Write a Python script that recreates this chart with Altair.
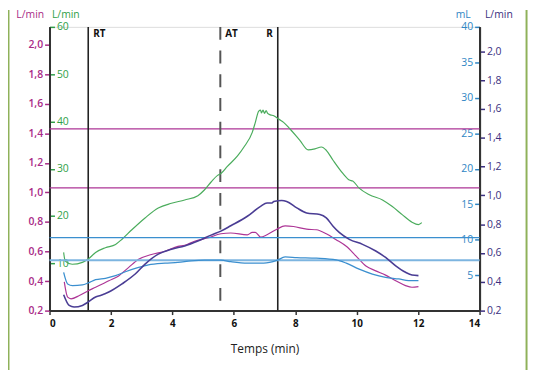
import altair as alt
import pandas as pd

# ---------------- data ----------------
# green curve (L/min, 0-60 scale, inner left axis)
green_t = [0.46, 0.51, 0.74, 1.07, 1.26, 1.50, 1.82, 2.15, 2.36, 2.68, 3.11, 3.54, 3.97, 4.40, 4.83,
           5.04, 5.26, 5.47, 5.58, 5.79, 6.12, 6.33, 6.60, 6.70, 6.81, 6.87, 6.90, 6.95, 7.00, 7.05,
           7.10, 7.19, 7.30, 7.40, 7.46, 7.62, 7.83, 8.15, 8.42, 8.64, 8.85, 9.01, 9.23, 9.55, 9.76,
           9.87, 10.08, 10.41, 10.84, 11.16, 11.48, 11.80, 12.01, 12.12]
green_v = [12.3, 10.5, 9.8, 10.2, 10.9, 12.3, 13.3, 14.0, 15.1, 17.1, 19.6, 21.7, 22.7, 23.4, 24.3,
           25.5, 27.2, 28.6, 29.0, 30.5, 32.7, 34.6, 37.7, 39.8, 42.2, 42.4, 41.8, 42.4, 41.7, 42.3,
           41.7, 41.4, 41.2, 40.8, 40.5, 39.8, 38.4, 36.0, 34.0, 34.2, 34.6, 33.9, 31.8, 29.0, 27.6,
           27.4, 25.9, 24.5, 23.4, 22.0, 20.3, 18.7, 18.2, 18.6]

# magenta curve (L/min, outer left axis)
mag_t = [0.48, 0.59, 0.70, 0.97, 1.26, 1.50, 1.72, 1.93, 2.25, 2.57, 2.90, 3.32, 3.76, 4.18, 4.40,
         4.72, 5.15, 5.58, 5.90, 6.44, 6.60, 6.70, 6.87, 7.08, 7.40, 7.67, 7.94, 8.37, 8.69, 9.01,
         9.33, 9.66, 9.98, 10.30, 10.62, 10.94, 11.27, 11.59, 11.80, 12.01]
mag_v = [0.395, 0.291, 0.280, 0.302, 0.335, 0.358, 0.380, 0.402, 0.435, 0.491, 0.547, 0.580, 0.602,
         0.635, 0.642, 0.669, 0.691, 0.720, 0.725, 0.713, 0.729, 0.729, 0.698, 0.713, 0.751, 0.773,
         0.769, 0.751, 0.747, 0.720, 0.680, 0.635, 0.569, 0.502, 0.469, 0.440, 0.402, 0.369, 0.358,
         0.362]
mag_h = [1.43, 1.03]

# dark purple curve (L/min, outer right axis)
pur_t = [0.46, 0.64, 0.80, 1.07, 1.26, 1.50, 1.66, 1.93, 2.36, 2.79, 3.11, 3.54, 3.97, 4.40, 4.83,
         5.26, 5.58, 5.90, 6.44, 6.87, 7.08, 7.24, 7.30, 7.56, 7.72, 8.05, 8.37, 8.80, 9.01, 9.23,
         9.44, 9.76, 10.19, 10.62, 10.94, 11.27, 11.59, 11.80, 12.01]
pur_v = [0.310, 0.236, 0.225, 0.236, 0.260, 0.294, 0.305, 0.329, 0.386, 0.454, 0.523, 0.592, 0.626,
         0.649, 0.683, 0.724, 0.752, 0.789, 0.855, 0.924, 0.947, 0.947, 0.958, 0.965, 0.958, 0.913,
         0.878, 0.867, 0.844, 0.786, 0.741, 0.695, 0.660, 0.614, 0.569, 0.511, 0.466, 0.447, 0.443]

# blue curve (mL, inner right axis)
blue_t = [0.46, 0.59, 0.75, 1.07, 1.26, 1.50, 1.82, 2.15, 2.47, 2.90, 3.22, 3.76, 4.18, 4.61, 5.04,
          5.58, 5.90, 6.44, 6.97, 7.40, 7.67, 8.05, 8.69, 9.33, 9.66, 10.08, 10.51, 10.94, 11.37,
          11.69, 12.01]
blue_v = [5.39, 3.76, 3.53, 3.62, 3.90, 4.36, 4.56, 4.92, 5.48, 6.09, 6.45, 6.69, 6.79, 7.01, 7.11,
          7.11, 6.90, 6.69, 6.69, 7.07, 7.57, 7.48, 7.39, 7.15, 6.69, 5.85, 5.16, 4.70, 4.46, 4.22,
          4.22]
blue_h_upper = [10.3]
blue_h_lower = [7.1]

# events
event_names = ["RT", "AT", "R"]
event_t = [1.26, 5.56, 7.43]
event_label_level = 2.07  # on the left L/min scale

x_ticks = [0, 2, 4, 6, 8, 10, 12, 14]
lmin_ticks = [0.2, 0.4, 0.6, 0.8, 1.0, 1.2, 1.4, 1.6, 1.8, 2.0]
green_ticks = [10, 20, 30, 40, 50, 60]
ml_ticks = [5, 10, 15, 20, 25, 30, 35, 40]

# ---------------- styling ----------------
W, H = 435, 287
FONT = "Open Sans"
MAG, MAG_TXT = "#ad3596", "#a82a86"
GRN, GRN_TXT = "#4aac5c", "#2f9f48"
BLU, BLU_TXT = "#3b8fcf", "#2f86c4"
BLU_LIGHT = "#7db5e0"
PUR, PUR_TXT = "#4a3d94", "#3b2f80"
AX = "#333333"
FRAME = "#8fb15a"
comma = "replace(format(datum.value, '.1f'), '.', ',')"

df_g = pd.DataFrame({"t": green_t, "v": green_v})
df_m = pd.DataFrame({"t": mag_t, "v": mag_v})
df_p = pd.DataFrame({"t": pur_t, "v": pur_v})
df_b = pd.DataFrame({"t": blue_t, "v": blue_v})
df_mh = pd.DataFrame({"v": mag_h})
df_bhu = pd.DataFrame({"v": blue_h_upper})
df_bhl = pd.DataFrame({"v": blue_h_lower})
df_ev = pd.DataFrame({"t": event_t, "name": event_names, "v": [event_label_level] * len(event_t)})

X = alt.X("t:Q", scale=alt.Scale(domain=[0, 14], nice=False, zero=False),
          axis=alt.Axis(values=x_ticks, title="Temps (min)", grid=False, domainColor=AX,
                        domainWidth=2, tickColor=AX, tickSize=4, tickWidth=1.5,
                        labelColor="#111", labelFont=FONT, labelFontSize=10,
                        labelFontWeight="bold", labelPadding=4, labelOverlap=False,
                        titleFont=FONT, titleFontSize=12, titleFontWeight="normal",
                        titleColor="#222", titlePadding=15))


def yaxis(vals, orient, offset, color, title, title_x, fmt=None, bold=False):
    kw = dict(orient=orient, offset=offset, values=vals, grid=False, domainColor=AX,
              domainWidth=2, tickColor=color, tickSize=5, tickWidth=1.5, labelColor=color,
              labelFont=FONT, labelFontSize=10.5, labelPadding=2, labelOverlap=False,
              labelFontWeight=600 if bold else "normal",
              title=title, titleAngle=0, titleX=title_x, titleY=-9.8, titleAlign="center",
              titleBaseline="alphabetic", titleFont=FONT, titleFontSize=10.5,
              titleFontWeight="normal", titleColor=color)
    if fmt:
        kw["labelExpr"] = fmt
    return alt.Axis(**kw)


Y_M = alt.Y("v:Q", scale=alt.Scale(domain=[0.2, 2.12], nice=False, zero=False),
            axis=yaxis(lmin_ticks, "left", 0, MAG_TXT, "L/min", -20, comma, True))
Y_G = alt.Y("v:Q", scale=alt.Scale(domain=[0, 60], nice=False, zero=False),
            axis=yaxis(green_ticks, "right", -W, GRN_TXT, "L/min", 16))
Y_B = alt.Y("v:Q", scale=alt.Scale(domain=[0, 40], nice=False, zero=False),
            axis=yaxis(ml_ticks, "left", -W, BLU_TXT, "mL", -17))
Y_P = alt.Y("v:Q", scale=alt.Scale(domain=[0.2, 2.17], nice=False, zero=False),
            axis=yaxis(lmin_ticks, "right", 0, PUR_TXT, "L/min", 19, comma))

# magenta group (also carries event lines and labels)
m_hl = alt.Chart(df_mh).mark_rule(color=MAG, strokeWidth=1.2).encode(y=Y_M)
m_line = alt.Chart(df_m).mark_line(color=MAG, strokeWidth=1.2, interpolate="monotone").encode(x=X, y=Y_M)
ev_solid = alt.Chart(df_ev).transform_filter("datum.name != 'AT'").mark_rule(
    color="#222", strokeWidth=1.6).encode(x=X)
ev_dash = alt.Chart(df_ev).transform_filter("datum.name == 'AT'").mark_rule(
    color="#555", strokeWidth=2, strokeDash=[13, 11]).encode(x=X)
ev_txt_l = alt.Chart(df_ev).transform_filter("datum.name != 'R'").mark_text(
    align="left", baseline="middle", dx=5, font=FONT, fontSize=10, fontWeight="bold",
    color="#111").encode(x=X, y=Y_M, text="name:N")
ev_txt_r = alt.Chart(df_ev).transform_filter("datum.name == 'R'").mark_text(
    align="right", baseline="middle", dx=-5, font=FONT, fontSize=10, fontWeight="bold",
    color="#111").encode(x=X, y=Y_M, text="name:N")
mag_group = alt.layer(m_hl, ev_solid, ev_dash, m_line, ev_txt_l, ev_txt_r)

green_group = alt.layer(
    alt.Chart(df_g).mark_line(color=GRN, strokeWidth=1.2, interpolate="monotone").encode(x=X, y=Y_G)
)

blue_group = alt.layer(
    alt.Chart(df_bhu).mark_rule(color=BLU, strokeWidth=1.2).encode(y=Y_B),
    alt.Chart(df_bhl).mark_rule(color=BLU_LIGHT, strokeWidth=1.8).encode(y=Y_B),
    alt.Chart(df_b).mark_line(color=BLU, strokeWidth=1.3, interpolate="monotone").encode(x=X, y=Y_B),
)

pur_group = alt.layer(
    alt.Chart(df_p).mark_line(color=PUR, strokeWidth=1.6, interpolate="monotone").encode(x=X, y=Y_P)
)

# decorative frame lines at the page edges
frame_df = pd.DataFrame({"k": [0]})
frame_l = alt.Chart(frame_df).mark_rule(color=FRAME, strokeWidth=2).encode(
    x=alt.value(-41.5), y=alt.value(-17), y2=alt.value(H + 60))
frame_r = alt.Chart(frame_df).mark_rule(color=FRAME, strokeWidth=2).encode(
    x=alt.value(W + 47.5), y=alt.value(-17), y2=alt.value(H + 60))

chart = alt.layer(mag_group, green_group, blue_group, pur_group, frame_l, frame_r).resolve_scale(
    y="independent"
).properties(
    width=W, height=H,
    autosize=alt.AutoSizeParams(type="none"),
    padding={"left": 42, "top": 17, "right": 51, "bottom": 60},
).configure_view(stroke=None).configure_axis(labelOverlap=False).configure(background="white")

chart.save("out.html", embed_options={"renderer": "svg", "actions": False})
